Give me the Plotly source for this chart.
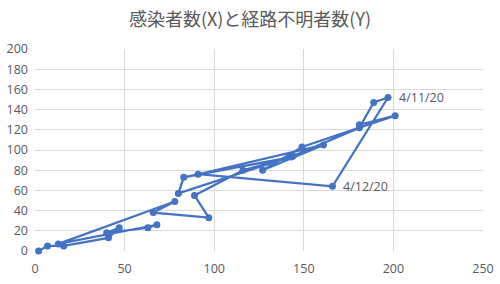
import plotly.graph_objects as go

# data: (infections X, unknown-route Y), chronological
dates = ["3/21/20", "3/22/20", "3/24/20", "3/25/20", "3/26/20", "3/27/20", "3/28/20", "3/29/20",
         "3/30/20", "3/31/20", "4/1/20", "4/2/20", "4/3/20", "4/4/20", "4/5/20", "4/6/20",
         "4/7/20", "4/8/20", "4/9/20", "4/10/20", "4/11/20", "4/12/20", "4/13/20", "4/14/20",
         "4/15/20", "4/16/20", "4/17/20", "4/18/20"]
infected = [2, 7, 16, 41, 47, 40, 63, 68, 13, 78, 66, 97, 89, 116, 143, 83, 80, 144, 181, 189,
            197, 166, 91, 161, 127, 149, 201, 181]
unknown = [0, 5, 5, 13, 23, 18, 23, 26, 7, 49, 38, 33, 55, 80, 93, 73, 57, 94, 122, 147,
           152, 64, 76, 105, 80, 103, 134, 125]
labeled = ["4/11/20", "4/12/20"]

title = "感染者数(X)と経路不明者数(Y)"
x_ticks = [0, 50, 100, 150, 200, 250]
y_ticks = [0, 20, 40, 60, 80, 100, 120, 140, 160, 180, 200]

fig = go.Figure()
fig.add_trace(go.Scatter(
    x=infected, y=unknown, mode="lines+markers",
    line=dict(color="#4472C4", width=2.25),
    marker=dict(color="#4472C4", size=7),
    cliponaxis=False,
))

for d, xv, yv in zip(dates, infected, unknown):
    if d in labeled:
        fig.add_annotation(x=xv, y=yv, text=d, showarrow=False, xanchor="left",
                           yanchor="middle", xshift=9,
                           font=dict(color="#595959", size=12.5,
                                     family="Open Sans, Liberation Sans, sans-serif"))

fig.update_layout(
    width=500, height=284,
    margin=dict(l=35, r=17, t=49, b=33, autoexpand=False),
    paper_bgcolor="white", plot_bgcolor="white",
    showlegend=False,
    title=dict(text=title, x=0.5, xanchor="center", y=0.93, yanchor="middle",
               font=dict(color="#595959", size=18, family="Noto Sans CJK JP")),
    font=dict(family="Open Sans, Liberation Sans, sans-serif", color="#595959", size=12),
)
fig.update_xaxes(range=[0, 250], tickvals=x_ticks, showgrid=True, gridcolor="#d9d9d9",
                 gridwidth=1, zeroline=False, showline=False, ticks="",
                 ticklabelstandoff=8, automargin=False,
                 tickfont=dict(color="#595959", size=12.5))
fig.update_yaxes(range=[0, 200], tickvals=y_ticks, showgrid=True, gridcolor="#d9d9d9",
                 gridwidth=1, zeroline=False, showline=False, ticks="",
                 ticklabelstandoff=6, automargin=False,
                 tickfont=dict(color="#595959", size=12.5))

fig.write_html("out.html")
